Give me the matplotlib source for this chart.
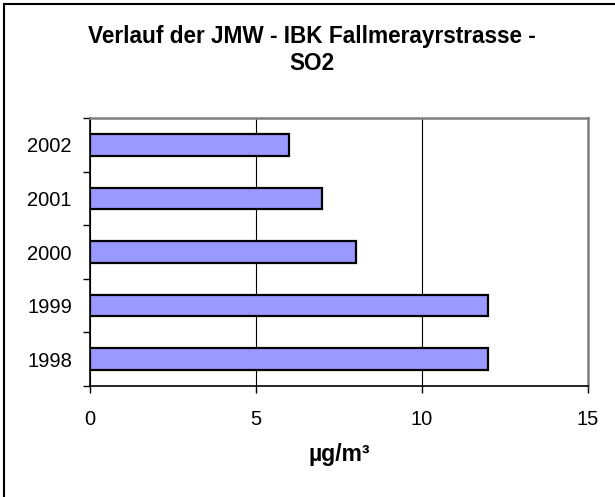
import matplotlib.pyplot as plt
from matplotlib.patches import Rectangle

plt.rcParams['font.family'] = ['Liberation Sans', 'DejaVu Sans']

jahre = ['1998', '1999', '2000', '2001', '2002']
werte = [12, 12, 8, 7, 6]
x_ticks = [0, 5, 10, 15]
titel = "Verlauf der JMW - IBK Fallmerayrstrasse -\nSO2"
x_label = "µg/m³"

fig = plt.figure(figsize=(6.15, 4.97), dpi=100)
ax = fig.add_axes([90/615, 1-386/497, 498/615, 268/497])

pos = list(range(len(jahre)))
ax.barh(pos, werte, height=0.4, color='#9999FF', edgecolor='black', linewidth=1.6, zorder=3)

ax.set_xlim(0, 15)
ax.set_ylim(-0.5, len(jahre) - 0.5)
ax.set_xticks(x_ticks)
ax.set_xticklabels([str(t) for t in x_ticks], fontsize=14.5)
ax.set_yticks(pos)
ax.set_yticklabels(jahre, fontsize=14.5)
ax.set_yticks([p - 0.5 for p in range(len(jahre) + 1)], minor=True)
ax.tick_params(axis='y', which='major', length=0, pad=13)
ax.tick_params(axis='y', which='minor', length=5, width=1, direction='out')
ax.tick_params(axis='x', length=5, width=1, direction='out', pad=12)
ax.grid(axis='x', color='black', linewidth=0.8, zorder=0)
ax.set_axisbelow(True)

for s in ['left', 'bottom']:
    ax.spines[s].set_color('black')
    ax.spines[s].set_linewidth(1.2)
for s in ['top', 'right']:
    ax.spines[s].set_color('#808080')
    ax.spines[s].set_linewidth(1.8)

ax.set_xlabel(x_label, fontsize=16.5, fontweight='bold', labelpad=10)
fig.text(312/615, 1-50/497, titel, ha='center', va='center', fontsize=16.3,
         fontweight='bold', linespacing=1.2)

fig.patches.append(Rectangle((3.5/615, -0.1), 1.2, 1.1 - 3.5/497,
                             transform=fig.transFigure, fill=False,
                             edgecolor='black', linewidth=1.5))

plt.savefig('out.png', dpi=100)
